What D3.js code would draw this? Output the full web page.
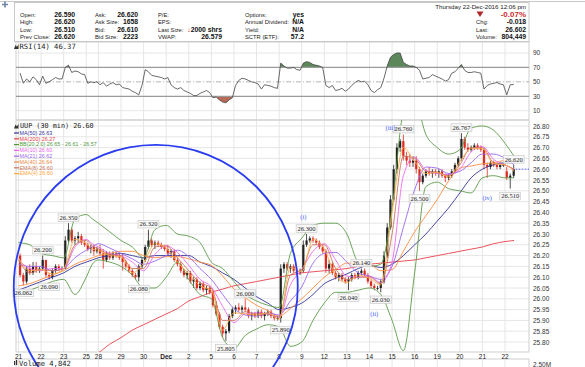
<!DOCTYPE html>
<html>
<head>
<meta charset="utf-8">
<script src="https://cdn.jsdelivr.net/npm/d3@7"></script>
<style>
body { margin: 0; background: #fff; }
svg { display: block; font-family: "Liberation Sans", Arial, sans-serif; }
</style>
</head>
<body>
<svg width="585" height="367"></svg>
<script>
// trading days shown on the x axis, 30 min bars per day, hourly candles drawn per day
const dayLabels = ["21","22","23","25","28","29","30","Dec","2","5","6","7","8","9","12","13","14","15","16","19","20","21","22"];
const dayBars = [13,13,13,7,13,13,13,13,13,13,13,13,13,13,13,13,13,13,13,13,13,13,13];
const dayCandles = [7,7,7,4,7,7,7,7,7,7,7,7,7,7,7,7,7,7,7,7,7,7,3];

// [open, high, low, close]
const candles = [
  [26.20,26.21,26.10,26.11],[26.11,26.12,26.062,26.08],[26.08,26.15,26.07,26.14],[26.14,26.16,26.11,26.12],[26.12,26.17,26.11,26.15],[26.15,26.17,26.12,26.13],[26.13,26.15,26.12,26.14],
  [26.14,26.20,26.13,26.18],[26.18,26.18,26.10,26.11],[26.11,26.12,26.09,26.10],[26.10,26.14,26.09,26.13],[26.13,26.16,26.12,26.15],[26.15,26.16,26.13,26.14],[26.14,26.15,26.13,26.14],
  [26.14,26.29,26.14,26.27],[26.27,26.35,26.26,26.32],[26.32,26.33,26.26,26.27],[26.27,26.29,26.25,26.28],[26.28,26.31,26.26,26.29],[26.29,26.30,26.25,26.26],[26.26,26.27,26.24,26.25],
  [26.25,26.26,26.22,26.23],[26.23,26.25,26.21,26.24],[26.24,26.25,26.20,26.22],[26.22,26.24,26.21,26.23],
  [26.23,26.25,26.20,26.21],[26.21,26.23,26.14,26.18],[26.18,26.22,26.17,26.21],[26.21,26.22,26.18,26.19],[26.19,26.22,26.18,26.21],[26.21,26.22,26.19,26.20],[26.20,26.21,26.18,26.19],
  [26.19,26.21,26.13,26.17],[26.17,26.18,26.14,26.15],[26.15,26.16,26.12,26.13],[26.13,26.14,26.10,26.11],[26.11,26.12,26.09,26.10],[26.10,26.16,26.08,26.15],[26.15,26.19,26.14,26.18],
  [26.18,26.25,26.17,26.24],[26.24,26.32,26.23,26.27],[26.27,26.28,26.24,26.25],[26.25,26.27,26.23,26.26],[26.26,26.27,26.24,26.25],[26.25,26.26,26.23,26.24],[26.24,26.25,26.22,26.23],
  [26.23,26.25,26.20,26.21],[26.21,26.23,26.19,26.22],[26.22,26.23,26.17,26.18],[26.18,26.19,26.15,26.16],[26.16,26.17,26.12,26.13],[26.13,26.14,26.10,26.11],[26.11,26.13,26.09,26.12],
  [26.12,26.13,26.07,26.08],[26.08,26.10,26.05,26.09],[26.09,26.10,26.04,26.05],[26.05,26.08,26.04,26.07],[26.07,26.08,26.03,26.04],[26.04,26.06,26.02,26.05],[26.05,26.06,26.02,26.03],
  [26.03,26.04,25.96,25.97],[25.97,25.99,25.92,25.93],[25.93,25.94,25.86,25.87],[25.87,25.88,25.82,25.84],[25.84,25.86,25.805,25.85],[25.85,25.93,25.84,25.92],[25.92,25.96,25.91,25.95],
  [25.95,25.97,25.93,25.96],[25.96,25.98,25.94,25.95],[25.95,25.97,25.93,25.96],[25.96,26.00,25.94,25.95],[25.95,25.96,25.91,25.92],[25.92,25.94,25.90,25.93],[25.93,25.94,25.91,25.92],
  [25.92,25.95,25.91,25.94],[25.94,25.95,25.91,25.92],[25.92,25.94,25.90,25.93],[25.93,25.95,25.92,25.94],[25.94,25.95,25.91,25.92],[25.92,25.93,25.90,25.91],[25.91,25.92,25.90,25.91],
  [25.91,26.16,25.89,26.14],[26.14,26.17,26.12,26.16],[26.16,26.17,26.13,26.14],[26.14,26.16,26.12,26.15],[26.15,26.16,26.12,26.13],[26.13,26.14,26.11,26.12],[26.12,26.14,26.11,26.13],
  [26.13,26.27,26.12,26.25],[26.25,26.30,26.24,26.27],[26.27,26.29,26.26,26.28],[26.28,26.29,26.26,26.27],[26.27,26.28,26.25,26.26],[26.26,26.27,26.23,26.24],[26.24,26.25,26.21,26.22],
  [26.22,26.23,26.12,26.14],[26.14,26.18,26.12,26.16],[26.16,26.17,26.11,26.12],[26.12,26.13,26.09,26.10],[26.10,26.12,26.08,26.11],[26.11,26.12,26.08,26.09],[26.09,26.10,26.07,26.08],
  [26.08,26.10,26.04,26.09],[26.09,26.12,26.08,26.11],[26.11,26.12,26.09,26.10],[26.10,26.13,26.09,26.12],[26.12,26.14,26.11,26.13],[26.13,26.14,26.10,26.11],[26.11,26.12,26.07,26.08],
  [26.08,26.09,26.05,26.06],[26.06,26.07,26.04,26.05],[26.05,26.06,26.04,26.05],[26.05,26.09,26.03,26.08],[26.08,26.22,26.07,26.20],[26.20,26.35,26.19,26.33],[26.33,26.48,26.32,26.46],
  [26.46,26.62,26.45,26.60],[26.60,26.72,26.58,26.70],[26.70,26.74,26.68,26.73],[26.73,26.76,26.64,26.66],[26.66,26.68,26.62,26.64],[26.64,26.67,26.61,26.63],[26.63,26.66,26.61,26.64],
  [26.64,26.66,26.58,26.60],[26.60,26.61,26.50,26.54],[26.54,26.58,26.53,26.57],[26.57,26.60,26.56,26.59],[26.59,26.61,26.57,26.58],[26.58,26.60,26.56,26.59],[26.59,26.60,26.57,26.58],
  [26.58,26.60,26.56,26.59],[26.59,26.60,26.56,26.57],[26.57,26.58,26.54,26.56],[26.56,26.58,26.55,26.57],[26.57,26.60,26.56,26.59],[26.59,26.63,26.58,26.62],[26.62,26.66,26.61,26.65],
  [26.65,26.767,26.64,26.74],[26.74,26.75,26.69,26.70],[26.70,26.72,26.68,26.69],[26.69,26.71,26.68,26.70],[26.70,26.72,26.69,26.71],[26.71,26.72,26.69,26.70],[26.70,26.71,26.68,26.69],
  [26.69,26.70,26.60,26.62],[26.62,26.63,26.56,26.61],[26.61,26.64,26.60,26.63],[26.63,26.64,26.61,26.62],[26.62,26.63,26.60,26.61],[26.61,26.63,26.60,26.62],[26.62,26.63,26.61,26.62],
  [26.59,26.61,26.55,26.56],[26.56,26.58,26.51,26.57],[26.57,26.62,26.56,26.60]
];

// RSI(14), one value per candle
const rsiValues = [
  62,48,54,50,57,53,46, 58,48,50,53,56,54,54, 70,73,63,65,64,61,60, 48,50,49,50,
  46,49,44,47,49,46,47, 42,41,40,37,35,32,45, 67,64,59,58,57,56,54, 56,46,42,40,42,38,36,
  34,31,31,34,36,38,35, 28,29,25,22,21,25,28, 45,52,55,54,52,50,49, 47,40,46,45,44,42,41,
  76,72,69,69,70,67,66, 76,78,77,74,73,72,70, 45,42,45,38,39,41,37, 40,45,49,52,50,51,46,
  38,35,39,42,55,72,84, 88,90,90,77,74,72,72, 70,66,54,55,56,60,58, 56,54,51,53,62,64,69,
  74,66,63,63,64,63,62, 40,45,47,48,49,47,46, 32,46,46.37
];

// overlays, read every half trading day (last value = now)
const ma200 = [25.55,25.57,25.60,25.63,25.66,25.69,25.72,25.735,25.75,25.79,25.82,25.855,25.88,25.905,25.93,25.955,25.99,26.01,26.03,26.045,26.06,26.07,26.08,26.09,26.10,26.11,26.12,26.125,26.13,26.135,26.14,26.15,26.16,26.165,26.17,26.175,26.18,26.19,26.20,26.21,26.22,26.23,26.24,26.255,26.265,26.27];
const ma50 = [26.04,26.06,26.08,26.10,26.12,26.15,26.17,26.18,26.19,26.20,26.21,26.20,26.19,26.20,26.20,26.20,26.20,26.17,26.15,26.12,26.09,26.05,26.01,25.98,25.95,25.96,25.98,26.02,26.07,26.095,26.115,26.14,26.155,26.145,26.16,26.20,26.25,26.30,26.36,26.42,26.49,26.56,26.60,26.62,26.63,26.63];
const ma40 = [26.06,26.07,26.09,26.11,26.13,26.16,26.18,26.19,26.20,26.21,26.22,26.22,26.20,26.19,26.195,26.195,26.185,26.17,26.155,26.105,26.045,26.005,25.97,25.945,25.92,25.955,26.00,26.05,26.10,26.135,26.165,26.165,26.16,26.13,26.135,26.22,26.31,26.385,26.46,26.545,26.605,26.615,26.625,26.63,26.64,26.64];
const ma21 = [26.16,26.15,26.15,26.13,26.14,26.19,26.225,26.24,26.255,26.235,26.21,26.185,26.16,26.175,26.20,26.225,26.195,26.14,26.09,26.02,25.955,25.925,25.92,25.935,25.925,25.99,26.055,26.165,26.21,26.215,26.17,26.12,26.105,26.09,26.15,26.33,26.505,26.61,26.605,26.58,26.59,26.63,26.67,26.67,26.65,26.62];
const ma10 = [26.18,26.14,26.13,26.14,26.14,26.24,26.275,26.255,26.24,26.21,26.20,26.17,26.13,26.205,26.245,26.215,26.155,26.09,26.055,25.965,25.89,25.93,25.935,25.93,25.915,26.065,26.135,26.22,26.255,26.18,26.105,26.10,26.105,26.075,26.17,26.57,26.655,26.595,26.58,26.575,26.60,26.68,26.705,26.645,26.62,26.60];
const ema8 = [26.18,26.12,26.135,26.13,26.14,26.25,26.27,26.245,26.232,26.205,26.20,26.14,26.14,26.24,26.245,26.19,26.13,26.075,26.05,25.90,25.90,25.94,25.93,25.93,25.915,26.11,26.135,26.25,26.25,26.14,26.09,26.10,26.10,26.07,26.30,26.66,26.65,26.59,26.585,26.57,26.62,26.70,26.70,26.63,26.62,26.60];
const ema4 = [26.19,26.13,26.135,26.115,26.14,26.275,26.255,26.23,26.225,26.20,26.195,26.12,26.165,26.255,26.235,26.17,26.115,26.06,26.04,25.855,25.935,25.93,25.925,25.935,25.905,26.145,26.125,26.275,26.23,26.11,26.075,26.11,26.095,26.065,26.40,26.70,26.635,26.58,26.585,26.565,26.635,26.695,26.695,26.625,26.62,26.59];
const bbUpper = [26.26,26.25,26.21,26.20,26.19,26.37,26.39,26.37,26.35,26.31,26.27,26.24,26.19,26.32,26.34,26.30,26.29,26.26,26.17,26.14,26.08,26.02,25.99,25.97,25.96,26.21,26.28,26.34,26.35,26.35,26.30,26.17,26.15,26.16,26.42,26.86,26.92,26.76,26.70,26.67,26.69,26.79,26.80,26.78,26.72,26.66];
const bbLower = [26.03,26.04,26.06,26.08,26.09,26.02,26.10,26.16,26.18,26.17,26.15,26.11,26.05,26.05,26.10,26.17,26.09,26.02,26.00,25.82,25.77,25.83,25.86,25.88,25.87,25.78,25.80,25.90,25.98,26.03,26.03,26.04,26.05,26.02,25.90,25.76,26.12,26.52,26.54,26.51,26.50,26.49,26.56,26.57,26.56,26.56];

// [text, day, candle of the day, "hi" | "lo"]
const priceLabels = [
  ["26.062",0,1,"lo"],["26.200",1,0,"hi"],["26.090",1,2,"lo"],["26.350",2,1,"hi"],
  ["26.080",5,5,"lo"],["26.320",6,1,"hi"],["25.805",9,4,"lo"],["26.000",10,3,"hi"],
  ["25.890",12,0,"lo"],["26.300",13,1,"hi"],["26.040",15,0,"lo"],["26.140",15,4,"hi"],
  ["26.030",16,3,"lo"],["26.760",17,3,"hi"],["26.500",18,1,"lo"],["26.767",20,0,"hi"],
  ["26.620",22,2,"hi"],["26.510",22,1,"lo"]
];
// [text, day, candle of the day, price level]
const waveLabels = [["(i)",13,0,26.38],["(ii)",16,1,25.93],["(iii)",16,6,26.79],["(iv)",21,1,26.47]];

const priceTicks = d3.range(25.80, 26.801, 0.05);
const rsiTicks = [10, 30, 50, 70, 90];

const legendItems = [
  ["MA(50) 26.63", "#333399"],
  ["MA(200) 26.27", "#e8414a"],
  ["BB(20,2.0) 26.65 - 26.61 - 26.57", "#4f9a3c"],
  ["MA(10) 26.60", "#ee66ee"],
  ["MA(21) 26.62", "#9966ee"],
  ["MA(40) 26.64", "#f08840"],
  ["EMA(8) 26.60", "#c87560"],
  ["EMA(4) 26.60", "#ffa640"]
];

const quoteRows = [
  ["Open:", "26.590", "Ask:", "26.620", "P/E:", "", "Options:", "yes"],
  ["High:", "26.620", "Ask Size:", "1658", "EPS:", "", "Annual Dividend:", "N/A"],
  ["Low:", "26.510", "Bid:", "26.610", "Last Size:", "2000 shrs", "Yield:", "N/A"],
  ["Prev Close:", "26.620", "Bid Size:", "2223", "VWAP:", "26.579", "SCTR (ETF):", "57.2"]
];
const quoteRight = [["Chg:", "-0.018"], ["Last:", "26.602"], ["Volume:", "804,449"]];

const svg = d3.select("svg");
const L = 16, R = 529;
const rsiTop = 42, rsiBot = 120, mainTop = 120, mainBot = 352, volTop = 359;

const dayStart = [];
let acc = 0;
dayBars.forEach(b => { dayStart.push(acc); acc += b; });

const x = d3.scaleLinear().domain([0, 280]).range([18.5, 505]);
const y = d3.scaleLinear().domain([25.80, 26.80]).range([342, 126]);
const yR = d3.scaleLinear().domain([10, 90]).range([110.7, 53]);

// candle positions in bar units
const cBar = [];
const dayOffset = [];
dayCandles.forEach((n, d) => {
  dayOffset.push(cBar.length);
  const span = Math.min(dayBars[d], n * 2);
  for (let j = 0; j < n; j++) cBar.push(dayStart[d] + (j + 0.5) * span / n);
});
const candleData = candles.map((c, i) => ({ bar: cBar[i], o: c[0], h: c[1], l: c[2], c: c[3] }));

const times = d3.range(0, 22.01, 0.5).concat([22.4]);
const tBar = t => { const d = Math.floor(t); return dayStart[d] + (t - d) * dayBars[d]; };

// ---------- panels and grid
svg.append("line").attr("x1", 0).attr("x2", 585).attr("y1", 1.5).attr("y2", 1.5).attr("stroke", "#c8c8c8");

const grid = svg.append("g").attr("stroke", "#e6e6e6").attr("stroke-width", 1);
dayStart.forEach(b => {
  grid.append("line").attr("x1", x(b)).attr("x2", x(b)).attr("y1", rsiTop).attr("y2", mainBot);
  grid.append("line").attr("x1", x(b)).attr("x2", x(b)).attr("y1", volTop).attr("y2", 367);
});
priceTicks.forEach(p => {
  grid.append("line").attr("x1", L).attr("x2", R).attr("y1", y(p)).attr("y2", y(p));
});
[10, 90].forEach(v => grid.append("line").attr("x1", L).attr("x2", R).attr("y1", yR(v)).attr("y2", yR(v)));

svg.append("rect").attr("x", L).attr("y", rsiTop).attr("width", R - L).attr("height", rsiBot - rsiTop)
  .attr("fill", "none").attr("stroke", "#cfcfcf");
svg.append("rect").attr("x", L).attr("y", mainTop).attr("width", R - L).attr("height", mainBot - mainTop)
  .attr("fill", "none").attr("stroke", "#cfcfcf");
svg.append("rect").attr("x", L).attr("y", volTop).attr("width", R - L).attr("height", 20)
  .attr("fill", "none").attr("stroke", "#cfcfcf");

// ---------- RSI panel
const rsiG = svg.append("g");
svg.append("clipPath").attr("id", "above70").append("rect")
  .attr("x", L).attr("y", rsiTop).attr("width", R - L).attr("height", yR(70) - rsiTop);
svg.append("clipPath").attr("id", "below30").append("rect")
  .attr("x", L).attr("y", yR(30)).attr("width", R - L).attr("height", rsiBot - yR(30));

const rsiArea = lvl => d3.area().x((v, i) => x(cBar[i])).y0(yR(lvl)).y1(v => yR(v));
rsiG.append("path").attr("d", rsiArea(70)(rsiValues)).attr("fill", "#5c875a").attr("clip-path", "url(#above70)");
rsiG.append("path").attr("d", rsiArea(30)(rsiValues)).attr("fill", "#b86a58").attr("clip-path", "url(#below30)");

[70, 30].forEach(v => rsiG.append("line").attr("x1", L).attr("x2", R).attr("y1", yR(v)).attr("y2", yR(v))
  .attr("stroke", "#9a9a9a").attr("stroke-width", 1.2));
rsiG.append("line").attr("x1", L).attr("x2", R).attr("y1", yR(50)).attr("y2", yR(50))
  .attr("stroke", "#b5b5b5").attr("stroke-dasharray", "5,2,1,2");

rsiG.append("path").attr("d", d3.line().x((v, i) => x(cBar[i])).y(v => yR(v))(rsiValues))
  .attr("fill", "none").attr("stroke", "#444").attr("stroke-width", 0.8);

rsiTicks.forEach(v => rsiG.append("text").attr("x", 533).attr("y", yR(v)).attr("dy", "0.35em")
  .attr("font-size", 6.5).attr("fill", "#333").text(v));

// ---------- header quote box
const head = svg.append("g");
head.append("rect").attr("x", 14.5).attr("y", 2.5).attr("width", 514.5).attr("height", 39)
  .attr("fill", "#fff").attr("stroke", "#c8c8c8");
head.append("path").attr("d", "M2,4.5H8M5,1.5V7.5").attr("stroke", "#6d86a8").attr("stroke-width", 1.6);
const rowY = [14.5, 22, 29.5, 37];
const colLabel = [20, 95, 158, 245], colValue = [75, 138, 222, 304];
quoteRows.forEach((row, r) => {
  for (let c = 0; c < 4; c++) {
    head.append("text").attr("x", colLabel[c]).attr("y", rowY[r]).attr("dy", "0.35em")
      .attr("font-size", 5.8).attr("fill", "#222").text(row[c * 2]);
    const t = head.append("text").attr("x", colValue[c]).attr("y", rowY[r]).attr("dy", "0.35em")
      .attr("text-anchor", "end").attr("font-size", 6.8).attr("font-weight", "bold").attr("fill", "#111");
    if (row[c * 2] === "Last Size:") {
      t.append("tspan").attr("fill", "#d02020").text("\u2193");
    }
    t.append("tspan").text(row[c * 2 + 1]);
  }
});
head.append("text").attr("x", 526).attr("y", 6.5).attr("dy", "0.35em").attr("text-anchor", "end")
  .attr("font-size", 6.2).attr("fill", "#222").text("Thursday  22-Dec-2016  12:06 pm");
head.append("path").attr("d", "M476.5,11.5L483.5,11.5L480,17Z").attr("fill", "#b02828");
head.append("text").attr("x", 526).attr("y", 14.5).attr("dy", "0.35em").attr("text-anchor", "end")
  .attr("font-size", 8).attr("font-weight", "bold").attr("fill", "#d02a2a").text("-0.07%");
quoteRight.forEach((q, i) => {
  head.append("text").attr("x", 476).attr("y", rowY[i + 1]).attr("dy", "0.35em")
    .attr("font-size", 5.8).attr("fill", "#222").text(q[0]);
  head.append("text").attr("x", 526).attr("y", rowY[i + 1]).attr("dy", "0.35em").attr("text-anchor", "end")
    .attr("font-size", 6.8).attr("font-weight", "bold").attr("fill", "#111").text(q[1]);
});

// panel titles
function icon(g, ix, iy) {
  g.append("path").attr("d", `M${ix},${iy + 3}L${ix + 1.5},${iy - 1}L${ix + 3},${iy + 1}L${ix + 4.5},${iy - 2}V${iy + 3}Z`)
    .attr("fill", "#333");
}
icon(svg, 14, 46);
svg.append("text").attr("x", 19.5).attr("y", 46.5).attr("dy", "0.35em").attr("font-size", 7.2)
  .attr("font-family", "DejaVu Sans Mono, monospace").attr("fill", "#222").text("RSI(14) 46.37");

// ---------- main price panel
svg.append("clipPath").attr("id", "mainClip").append("rect")
  .attr("x", L).attr("y", mainTop).attr("width", R - L).attr("height", mainBot - mainTop);
const main = svg.append("g").attr("clip-path", "url(#mainClip)");

const cw = 2.2;
main.selectAll(".wick").data(candleData).join("line").attr("class", "wick")
  .attr("x1", d => x(d.bar)).attr("x2", d => x(d.bar))
  .attr("y1", d => y(d.h)).attr("y2", d => y(d.l))
  .attr("stroke", d => d.c < d.o ? "#e0281e" : "#222").attr("stroke-width", 0.8);
main.selectAll(".body").data(candleData).join("rect").attr("class", "body")
  .attr("x", d => x(d.bar) - cw / 2).attr("width", cw)
  .attr("y", d => y(Math.max(d.o, d.c)))
  .attr("height", d => Math.max(0.8, Math.abs(y(d.o) - y(d.c))))
  .attr("fill", d => d.c < d.o ? "#e0281e" : "#222");

const lineGen = d3.line().x((v, i) => x(tBar(times[i]))).y(v => y(v)).curve(d3.curveMonotoneX);
const overlays = [
  [ma200, "#e8414a"], [ma50, "#333399"], [bbUpper, "#5c9a48"], [bbLower, "#5c9a48"],
  [ma40, "#ff8c40"], [ma21, "#9a66ee"], [ma10, "#ee6aee"], [ema8, "#c87560"], [ema4, "#ffaa48"]
];
overlays.forEach(([vals, col]) => {
  main.append("path").attr("d", lineGen(vals)).attr("fill", "none").attr("stroke", col).attr("stroke-width", 0.9);
});

// current price line
const last = candleData[candleData.length - 1];
main.append("line").attr("x1", x(last.bar) + 2).attr("x2", R).attr("y1", y(last.c)).attr("y2", y(last.c))
  .attr("stroke", "#3344ee").attr("stroke-width", 0.8).attr("stroke-dasharray", "1.5,1.5");

// high / low labels
priceLabels.forEach(([txt, d, j, kind]) => {
  const c = candleData[dayOffset[d] + j];
  const cx = x(c.bar), cy = kind === "hi" ? y(c.h) - 5.5 : y(c.l) + 7.5;
  const g = svg.append("g");
  const t = g.append("text").attr("x", cx).attr("y", cy).attr("dy", "0.35em").attr("text-anchor", "middle")
    .attr("font-size", 6.5).attr("font-family", "Liberation Serif, serif").attr("fill", "#222").text(txt);
  const w = t.node().getComputedTextLength();
  g.insert("rect", "text").attr("x", cx - w / 2 - 1.5).attr("y", cy - 3.8).attr("width", w + 3).attr("height", 7.6)
    .attr("fill", "#f7f7f7").attr("fill-opacity", 0.9).attr("stroke", "#c4c4c4").attr("stroke-width", 0.6);
});

waveLabels.forEach(([txt, d, j, p]) => {
  svg.append("text").attr("x", x(cBar[dayOffset[d] + j])).attr("y", y(p)).attr("dy", "0.35em")
    .attr("text-anchor", "middle").attr("font-size", 6.5).attr("font-family", "Liberation Serif, serif")
    .attr("fill", "#3c5cff").text(txt);
});

// legend
icon(svg, 14, 125.5);
svg.append("text").attr("x", 20).attr("y", 126).attr("dy", "0.35em").attr("font-size", 6.8)
  .attr("font-family", "DejaVu Sans Mono, monospace").attr("fill", "#222").text("UUP (30 min) 26.60");
legendItems.forEach(([txt, col], i) => {
  const ly = 133 + i * 5.8;
  svg.append("line").attr("x1", 14).attr("x2", 19).attr("y1", ly).attr("y2", ly).attr("stroke", col).attr("stroke-width", 1.2);
  svg.append("text").attr("x", 19.5).attr("y", ly).attr("dy", "0.35em").attr("font-size", 5.4).attr("fill", col).text(txt);
});

// price axis
const yAxis = svg.append("g").attr("transform", `translate(531,0)`)
  .call(d3.axisRight(y).tickValues(priceTicks).tickSize(0).tickPadding(2).tickFormat(d3.format(".2f")));
yAxis.select(".domain").remove();
yAxis.selectAll("text").attr("font-size", 6.5).attr("fill", "#333").attr("font-family", "Liberation Sans, sans-serif");

// date axis
dayLabels.forEach((lab, d) => {
  svg.append("text").attr("x", x(dayStart[d])).attr("y", 356.5).attr("dy", "0.35em").attr("text-anchor", "middle")
    .attr("font-size", 6.5).attr("font-weight", lab === "Dec" ? "bold" : "normal").attr("fill", "#222").text(lab);
});

// blue circle annotation (centre in bar / price units)
const circleCentre = [79, 26.055];
svg.append("circle").attr("cx", x(circleCentre[0])).attr("cy", y(circleCentre[1])).attr("r", 142)
  .attr("fill", "none").attr("stroke", "#2a3cf0").attr("stroke-width", 1.8);

// volume panel header
svg.append("rect").attr("x", 14).attr("y", 361).attr("width", 1.2).attr("height", 4).attr("fill", "#333");
svg.append("rect").attr("x", 16).attr("y", 360).attr("width", 1.2).attr("height", 5).attr("fill", "#333");
svg.append("text").attr("x", 19).attr("y", 363.5).attr("dy", "0.35em").attr("font-size", 7.2)
  .attr("font-family", "DejaVu Sans Mono, monospace").attr("fill", "#222").text("Volume 4,842");
svg.append("text").attr("x", 533).attr("y", 365).attr("dy", "0.35em").attr("font-size", 6.5)
  .attr("fill", "#333").text("2.50M");
</script>
</body>
</html>
